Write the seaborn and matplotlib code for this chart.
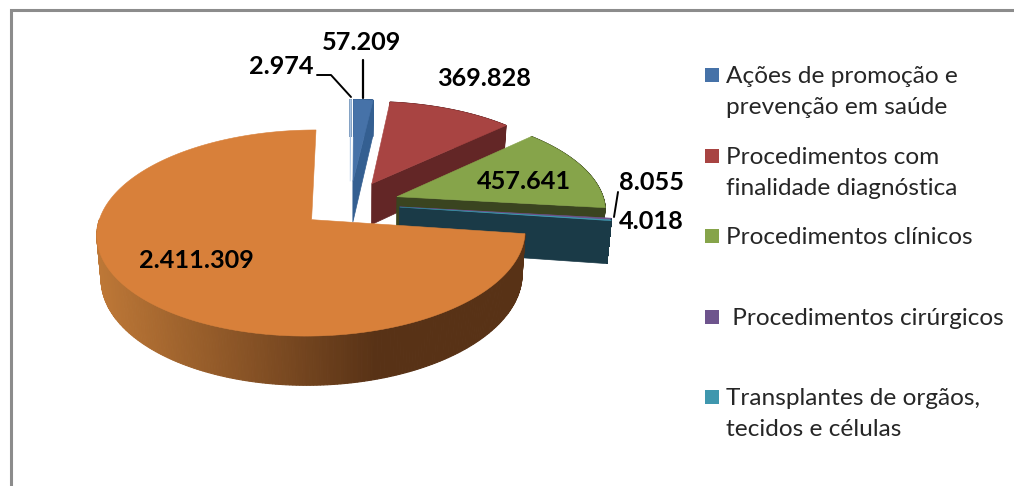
import numpy as np
import matplotlib
matplotlib.use("Agg")
import matplotlib.pyplot as plt
import seaborn as sns

# slices in clockwise order, starting at 12 o'clock
slice_values = [2974, 57209, 369828, 457641, 8055, 4018, 2411309]
slice_colors = ["#a9c4e4", "#4672a8", "#a84442", "#86a44a", "#6e548d", "#3f97ae", "#d8803a"]
wall_colors = ["#7f9dbf", "#345f91", "#632626", "#3a4420", "#3c2d55", "#1a3a47", "#5a3216"]
legend_labels = [
    "Ações de promoção e\nprevenção em saúde",
    "Procedimentos com\nfinalidade diagnóstica",
    "Procedimentos clínicos",
    " Procedimentos cirúrgicos",
    "Transplantes de orgãos,\ntecidos e células",
]

sns.set_theme(style="white")
plt.rcParams["font.family"] = ["Lato", "DejaVu Sans"]
palette = sns.color_palette(slice_colors)
walls = sns.color_palette(wall_colors)

# perspective of the pie, in pixels
CX, CY, A, B, K = 350, 204, 208, 97.3, 0.127
HEIGHT, SHRINK = 42, 0.017


def project(p, q, drop=0.0):
    w = 1 + K * np.asarray(q)
    x = CX + A * np.asarray(p) / w * (1 - SHRINK * drop)
    y = CY - B * np.asarray(q) / w + HEIGHT * drop / w
    return x, y


def fmt(v):
    return f"{v:,}".replace(",", ".")


fig = plt.figure(figsize=(10.14, 4.86), dpi=100)

# let pie work out the angles and the explode offsets, then draw them tilted
pie_ax = fig.add_axes([0, 0, 0.01, 0.01])
wedges, _ = pie_ax.pie(slice_values, explode=[0.24] * len(slice_values), startangle=90, counterclock=False)
pie_ax.set_visible(False)

ax = fig.add_axes([0, 0, 1, 1])
ax.set_xlim(0, 1014)
ax.set_ylim(486, 0)
ax.axis("off")

for i, wedge in enumerate(wedges):
    c0, c1 = wedge.center
    t = np.radians(np.linspace(wedge.theta1, wedge.theta2, 320))
    p = c0 + np.cos(t)
    q = c1 + np.sin(t)

    # outer wall, the part that faces us
    xt, yt = project(p, q)
    xb, yb = project(p, q, 1)
    for j in range(len(t) - 1):
        if i == len(wedges) - 1:
            if np.sin(t[j]) > 0.02:
                continue
            s = np.clip((xt[j] - 97) / 278, 0, 1)
            col = np.array([190, 120, 55]) * (1 - s) + np.array([88, 50, 22]) * s
            col = col / 255
        else:
            col = walls[i]
        ax.fill([xt[j], xt[j + 1], xb[j + 1], xb[j]], [yt[j], yt[j + 1], yb[j + 1], yb[j]],
                color=col, lw=0.8)

    # cut face on the clockwise side, only when it looks at us
    if np.sin(np.radians(wedge.theta1 - 90)) < -0.01:
        ap = [c0, p[0], p[0], c0]
        aq = [c1, q[0], q[0], c1]
        dr = [0, 0, 1, 1]
        fx, fy = zip(*[project(a, b, d) for a, b, d in zip(ap, aq, dr)])
        ax.fill(fx, fy, color=walls[i], lw=0.5)

    # top
    xs, ys = project(np.r_[c0, p], np.r_[c1, q])
    ax.fill(xs, ys, color=palette[i], lw=0.4)

# data labels
label_pos = [(281, 67), (362, 42), (484, 78), (524, 181), (651, 182), (651, 221), (196, 260)]
for v, (x, y) in zip(slice_values, label_pos):
    ax.text(x, y, fmt(v), ha="center", va="center", fontsize=18.2, fontweight="bold", color="black")

# leader lines
ax.plot([363, 363], [60, 98], color="black", lw=1.6)
ax.plot([317, 331, 351], [75, 75, 97], color="black", lw=1.4)
ax.plot([618, 614], [192, 217], color="black", lw=1.4)

# legend
legend_y = [75, 156, 236, 317, 397]
legend_colors = [palette[1], palette[2], palette[3], palette[4], palette[5]]
for label, y, col in zip(legend_labels, legend_y, legend_colors):
    ax.fill([705, 719, 719, 705], [y - 7, y - 7, y + 7, y + 7], color=col, lw=0)
    ax.text(726, y - 9, label, ha="left", va="top", fontsize=17.6, color="#262626", linespacing=1.6)

# frame of the chart area
ax.plot([11, 11, 1014], [486, 10, 10], color="#8c8c8c", lw=2.2, solid_joinstyle="miter")

plt.savefig("out.png", dpi=100)
plt.close()
